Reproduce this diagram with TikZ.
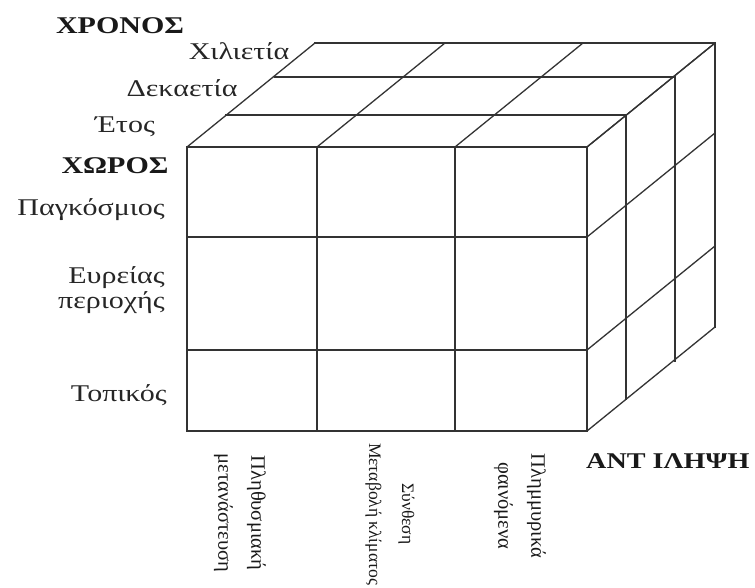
\documentclass[tikz,border=0pt]{standalone}
\usepackage{fontspec}
\setmainfont{Liberation Serif}
\newfontfamily\wideserif[FakeStretch=1.25]{Liberation Serif}
\begin{document}
\begin{tikzpicture}[x=1pt,y=-1pt,
  grid/.style={draw=black!80, line width=1.3pt, line cap=rect},
  lbl/.style={font=\wideserif\fontsize{24}{26}\selectfont, text=black!85, inner sep=0pt},
  head/.style={font=\wideserif\bfseries\fontsize{24}{26}\selectfont, text=black!90, inner sep=0pt},
  vlbl/.style={font=\fontsize{20.5}{33}\selectfont, text=black!90, rotate=-90, align=center, inner sep=0pt}]
\useasboundingbox (0,0) rectangle (755,588);
% front face
\foreach \x in {187,317,455,587} \draw[grid] (\x,147) -- (\x,431);
\foreach \y in {147,237,350,431} \draw[grid] (187,\y) -- (587,\y);
% depth layers (top and right faces)
\foreach \dx/\dy in {39/-32,88/-70,128/-104} {
  \draw[grid] (187+\dx,147+\dy) -- (587+\dx,147+\dy);
  \draw[grid] (587+\dx,147+\dy) -- (587+\dx,431+\dy);
}
\foreach \x in {187,317,455,587} \draw[grid] (\x,147) -- (\x+128,43);
\foreach \y in {147,237,350,431} \draw[grid] (587,\y) -- (715,\y-104);
% time axis
\node[head] (chronos) at (120,26) {ΧΡΟΝΟΣ};
\node[lbl] (t3) at (239,51) {Χιλιετία};
\node[lbl] (t2) at (182,88) {Δεκαετία};
\node[lbl] (t1) at (125,127) {Έτος};
% space axis
\node[head] (choros) at (115,166) {ΧΩΡΟΣ};
\node[lbl, anchor=east] (s1) at (165,210) {Παγκόσμιος};
\node[lbl, anchor=east, align=right, font=\wideserif\fontsize{24}{25}\selectfont] (s2) at (165,290) {Ευρείας\\περιοχής};
\node[lbl, anchor=east] (s3) at (167,395) {Τοπικός};
% perception axis
\node[head, anchor=west, font=\wideserif\bfseries\fontsize{22.5}{24}\selectfont] (antil) at (586,461) {ΑΝΤ ΙΛΗΨΗ};
\node[vlbl] (p1) at (240,513) {Πληθυσμιακή\\μετανάστευση};
\node[vlbl, font=\fontsize{17.5}{33}\selectfont] (p2) at (390,514) {Σύνθεση\\Μεταβολή κλίματος};
\node[vlbl] (p3) at (520,506) {Πλημμυρικά\\φαινόμενα};
\end{tikzpicture}
\end{document}
